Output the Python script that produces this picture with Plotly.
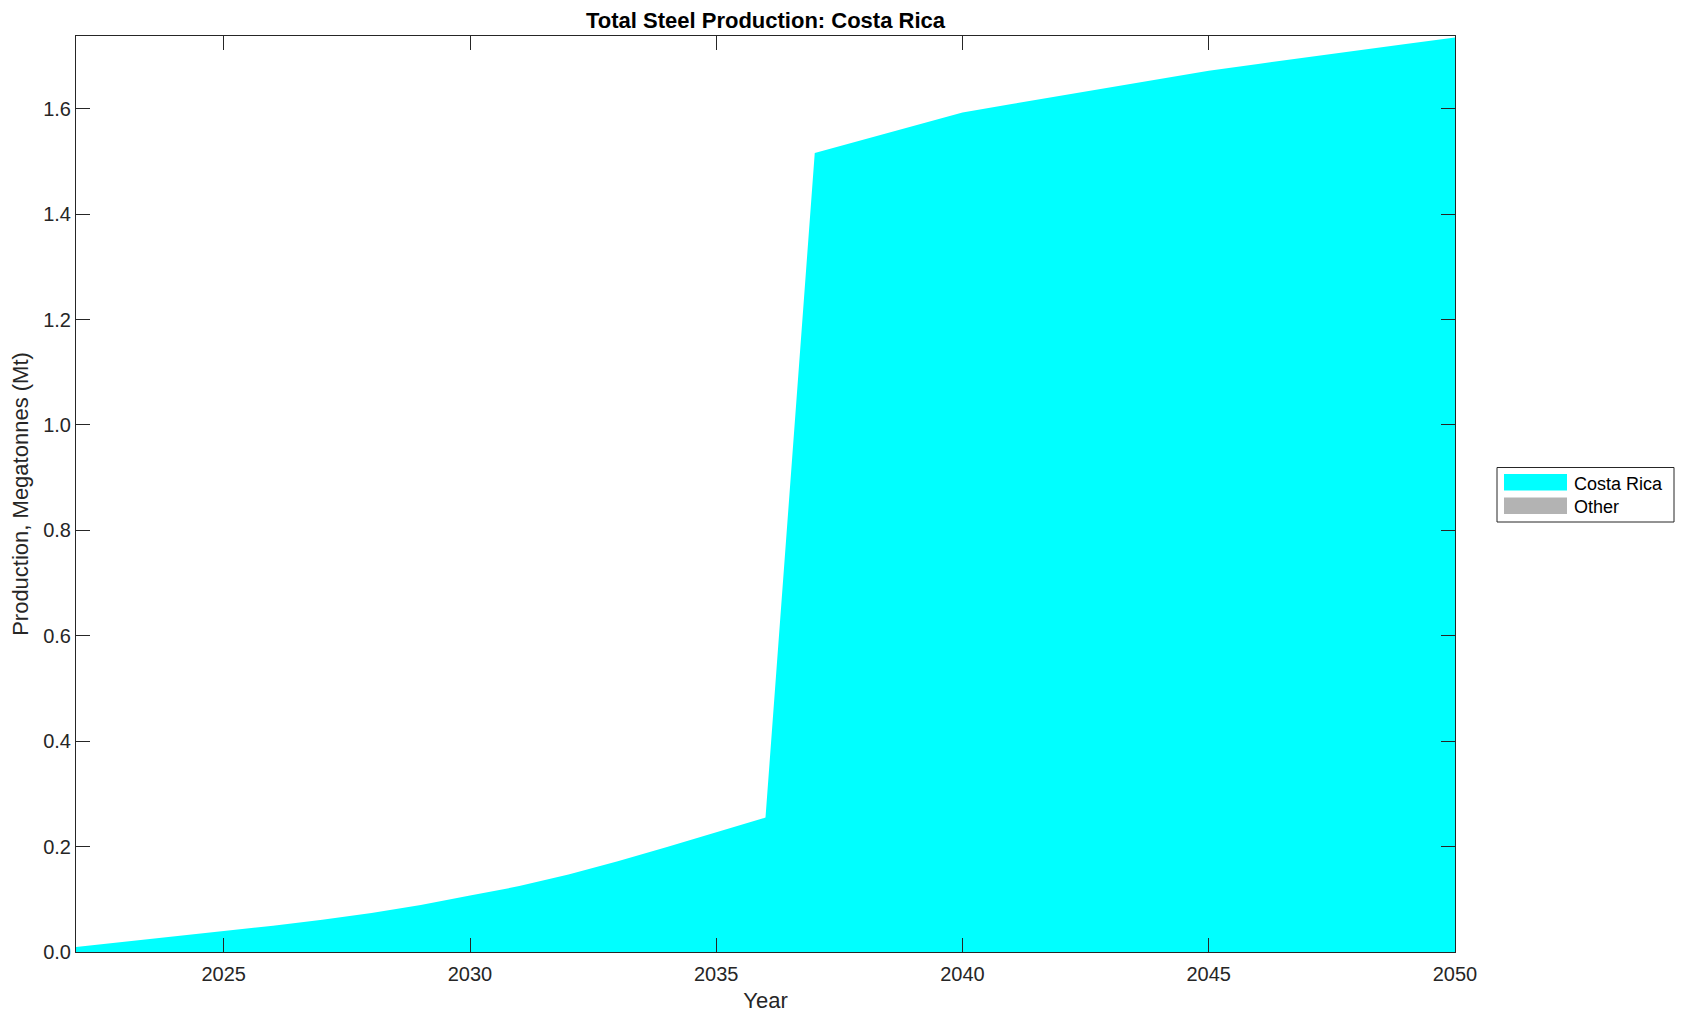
import plotly.graph_objs as go

years = list(range(2022, 2051))

# Costa Rica production (Mt)
costa_rica = [
    0.0095, 0.020, 0.030, 0.040, 0.050, 0.061, 0.074, 0.089, 0.107,
    0.125, 0.147, 0.172, 0.199, 0.227, 0.255,
    1.516, 1.542, 1.568, 1.593,
    1.609, 1.625, 1.641, 1.657, 1.672, 1.685, 1.698, 1.711, 1.723, 1.735,
]
other = [0.0] * len(years)

series_names = ['Costa Rica', 'Other']
series_colors = ['#00ffff', '#b3b3b3']

x_ticks = [2025, 2030, 2035, 2040, 2045, 2050]
y_ticks = [0.0, 0.2, 0.4, 0.6, 0.8, 1.0, 1.2, 1.4, 1.6]

AXIS_COLOR = '#262626'
FONT = 'Liberation Sans, Arial, Helvetica, sans-serif'

# page body has an 8px margin, so the figure is shrunk by that much
PAGE_OFFSET = 8
PLOT_L, PLOT_R, PLOT_T, PLOT_B = 76, 1455, 36, 952  # plot area in page px
FIG_W, FIG_H = 1685 - PAGE_OFFSET, 1021 - PAGE_OFFSET


def px_x(x):
    return (x - PLOT_L) / (PLOT_R - PLOT_L)


def px_y(y):
    return (PLOT_B - y) / (PLOT_B - PLOT_T)


fig = go.Figure()

for name, values, color in zip(series_names, [costa_rica, other], series_colors):
    fig.add_trace(go.Scatter(
        x=years,
        y=values,
        mode='lines',
        name=name,
        stackgroup='one',
        line=dict(width=0, color=color),
        fillcolor=color,
    ))

axis_common = dict(
    showline=True,
    linecolor=AXIS_COLOR,
    linewidth=1,
    mirror='allticks',
    ticks='inside',
    ticklen=14,
    tickwidth=1,
    tickcolor=AXIS_COLOR,
    showgrid=False,
    zeroline=False,
    tickfont=dict(size=20, color=AXIS_COLOR, family=FONT),
)

# MATLAB-style legend box with wide filled swatches
shapes = [dict(
    type='rect', xref='paper', yref='paper',
    x0=px_x(1497), x1=px_x(1674), y0=px_y(522), y1=px_y(467.5),
    line=dict(color=AXIS_COLOR, width=1), fillcolor='white', layer='above',
)]
annotations = []
for i, (name, color) in enumerate(zip(series_names, series_colors)):
    top = 474 + i * 23.5
    shapes.append(dict(
        type='rect', xref='paper', yref='paper',
        x0=px_x(1504), x1=px_x(1567), y0=px_y(top + 16.5), y1=px_y(top),
        line=dict(width=0), fillcolor=color, layer='above',
    ))
    annotations.append(dict(
        text=name, xref='paper', yref='paper',
        x=px_x(1572), y=px_y(top + 9.5), xanchor='left', yanchor='middle',
        showarrow=False, font=dict(size=18, color='black', family=FONT),
    ))

fig.update_layout(
    width=FIG_W,
    height=FIG_H,
    margin=dict(l=PLOT_L - PAGE_OFFSET, r=FIG_W - (PLOT_R - PAGE_OFFSET),
                t=PLOT_T - PAGE_OFFSET, b=FIG_H - (PLOT_B - PAGE_OFFSET)),
    paper_bgcolor='white',
    plot_bgcolor='white',
    font=dict(family=FONT, color=AXIS_COLOR),
    showlegend=False,
    title=dict(
        text='<b>Total Steel Production: Costa Rica</b>',
        x=0.5,
        xref='paper',
        xanchor='center',
        y=1 - (20.5 - PAGE_OFFSET) / FIG_H,
        yref='container',
        yanchor='middle',
        font=dict(size=22, color='black', family=FONT),
    ),
    xaxis=dict(
        axis_common,
        range=[2022, 2050],
        tickvals=x_ticks,
        ticklabelstandoff=4,
        title=dict(text='Year', font=dict(size=22, color=AXIS_COLOR), standoff=8),
    ),
    yaxis=dict(
        axis_common,
        range=[0, 1.738],
        tickvals=y_ticks,
        tickformat='.1f',
        title=dict(text='Production, Megatonnes (Mt)', font=dict(size=22, color=AXIS_COLOR), standoff=8),
    ),
    shapes=shapes,
    annotations=annotations,
    hovermode='closest',
)

fig.write_html("out.html")
